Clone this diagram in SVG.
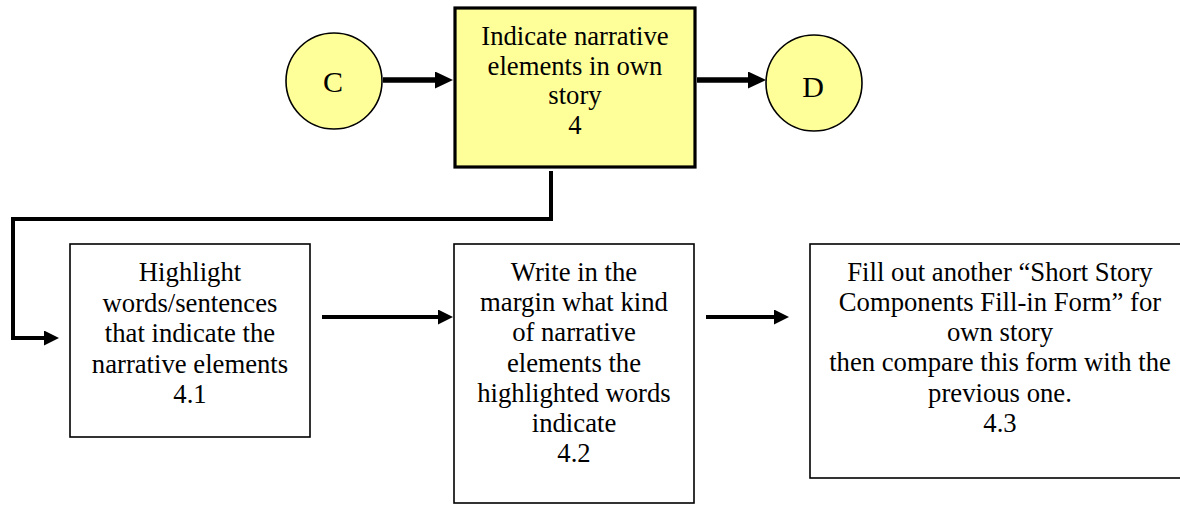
<svg xmlns="http://www.w3.org/2000/svg" width="1180" height="505" viewBox="0 0 1180 505">
<style>
.t{font-family:"Liberation Serif","Times New Roman",serif;font-size:26.7px;fill:#000;text-anchor:middle}
.big{font-size:30px}
.box{fill:#fff;stroke:#000;stroke-width:1.6}
.main{fill:#ffff99;stroke:#000;stroke-width:3.2}
.circ{fill:#ffff99;stroke:#000;stroke-width:1.6}
.thick{fill:none;stroke:#000;stroke-width:5.5}
.conn{fill:none;stroke:#000;stroke-width:4}
</style>
<defs>
<marker id="hb" markerUnits="userSpaceOnUse" markerWidth="18" markerHeight="17" refX="0" refY="8.5" orient="auto" viewBox="0 0 18 17">
<path d="M0,0 L18,8.5 L0,17 Z" fill="#000"/>
</marker>
<marker id="hs" markerUnits="userSpaceOnUse" markerWidth="15" markerHeight="15" refX="0" refY="7.5" orient="auto" viewBox="0 0 15 15">
<path d="M0,0 L15,7.5 L0,15 Z" fill="#000"/>
</marker>
</defs>
<g id="connectors">
<line class="thick" x1="383" y1="80" x2="435" y2="80" marker-end="url(#hb)"/>
<line class="thick" x1="697" y1="80" x2="748" y2="80" marker-end="url(#hb)"/>
<path class="conn" d="M551,171 V219 H13 V338 H44" marker-end="url(#hs)"/>
<line class="conn" x1="322" y1="317" x2="438" y2="317" marker-end="url(#hs)"/>
<line class="conn" x1="706" y1="317" x2="774" y2="317" marker-end="url(#hs)"/>
</g>
<g id="nodeC">
<circle class="circ" cx="334" cy="81" r="48"/>
<text class="t big" x="333" y="92">C</text>
</g>
<g id="node4">
<rect class="main" x="455" y="8" width="240" height="159"/>
<text class="t" x="575" y="45">Indicate narrative</text>
<text class="t" x="575" y="74.5">elements in own</text>
<text class="t" x="575" y="104">story</text>
<text class="t" x="575" y="133.5">4</text>
</g>
<g id="nodeD">
<circle class="circ" cx="814" cy="83" r="48"/>
<text class="t big" x="813" y="97">D</text>
</g>
<g id="node41">
<rect class="box" x="70" y="244" width="240" height="193"/>
<text class="t" x="190" y="281">Highlight</text>
<text class="t" x="190" y="311.5">words/sentences</text>
<text class="t" x="190" y="342">that indicate the</text>
<text class="t" x="190" y="372.5">narrative elements</text>
<text class="t" x="190" y="403">4.1</text>
</g>
<g id="node42">
<rect class="box" x="454" y="244" width="240" height="259"/>
<text class="t" x="574" y="281">Write in the</text>
<text class="t" x="574" y="311.2">margin what kind</text>
<text class="t" x="574" y="341.4">of narrative</text>
<text class="t" x="574" y="371.6">elements the</text>
<text class="t" x="574" y="401.8">highlighted words</text>
<text class="t" x="574" y="432">indicate</text>
<text class="t" x="574" y="462.2">4.2</text>
</g>
<g id="node43">
<rect class="box" x="810" y="244" width="385" height="234"/>
<text class="t" x="1000" y="281">Fill out another “Short Story</text>
<text class="t" x="1000" y="311">Components Fill-in Form” for</text>
<text class="t" x="1000" y="341">own story</text>
<text class="t" x="1000" y="371">then compare this form with the</text>
<text class="t" x="1000" y="402">previous one.</text>
<text class="t" x="1000" y="432">4.3</text>
</g>
</svg>
